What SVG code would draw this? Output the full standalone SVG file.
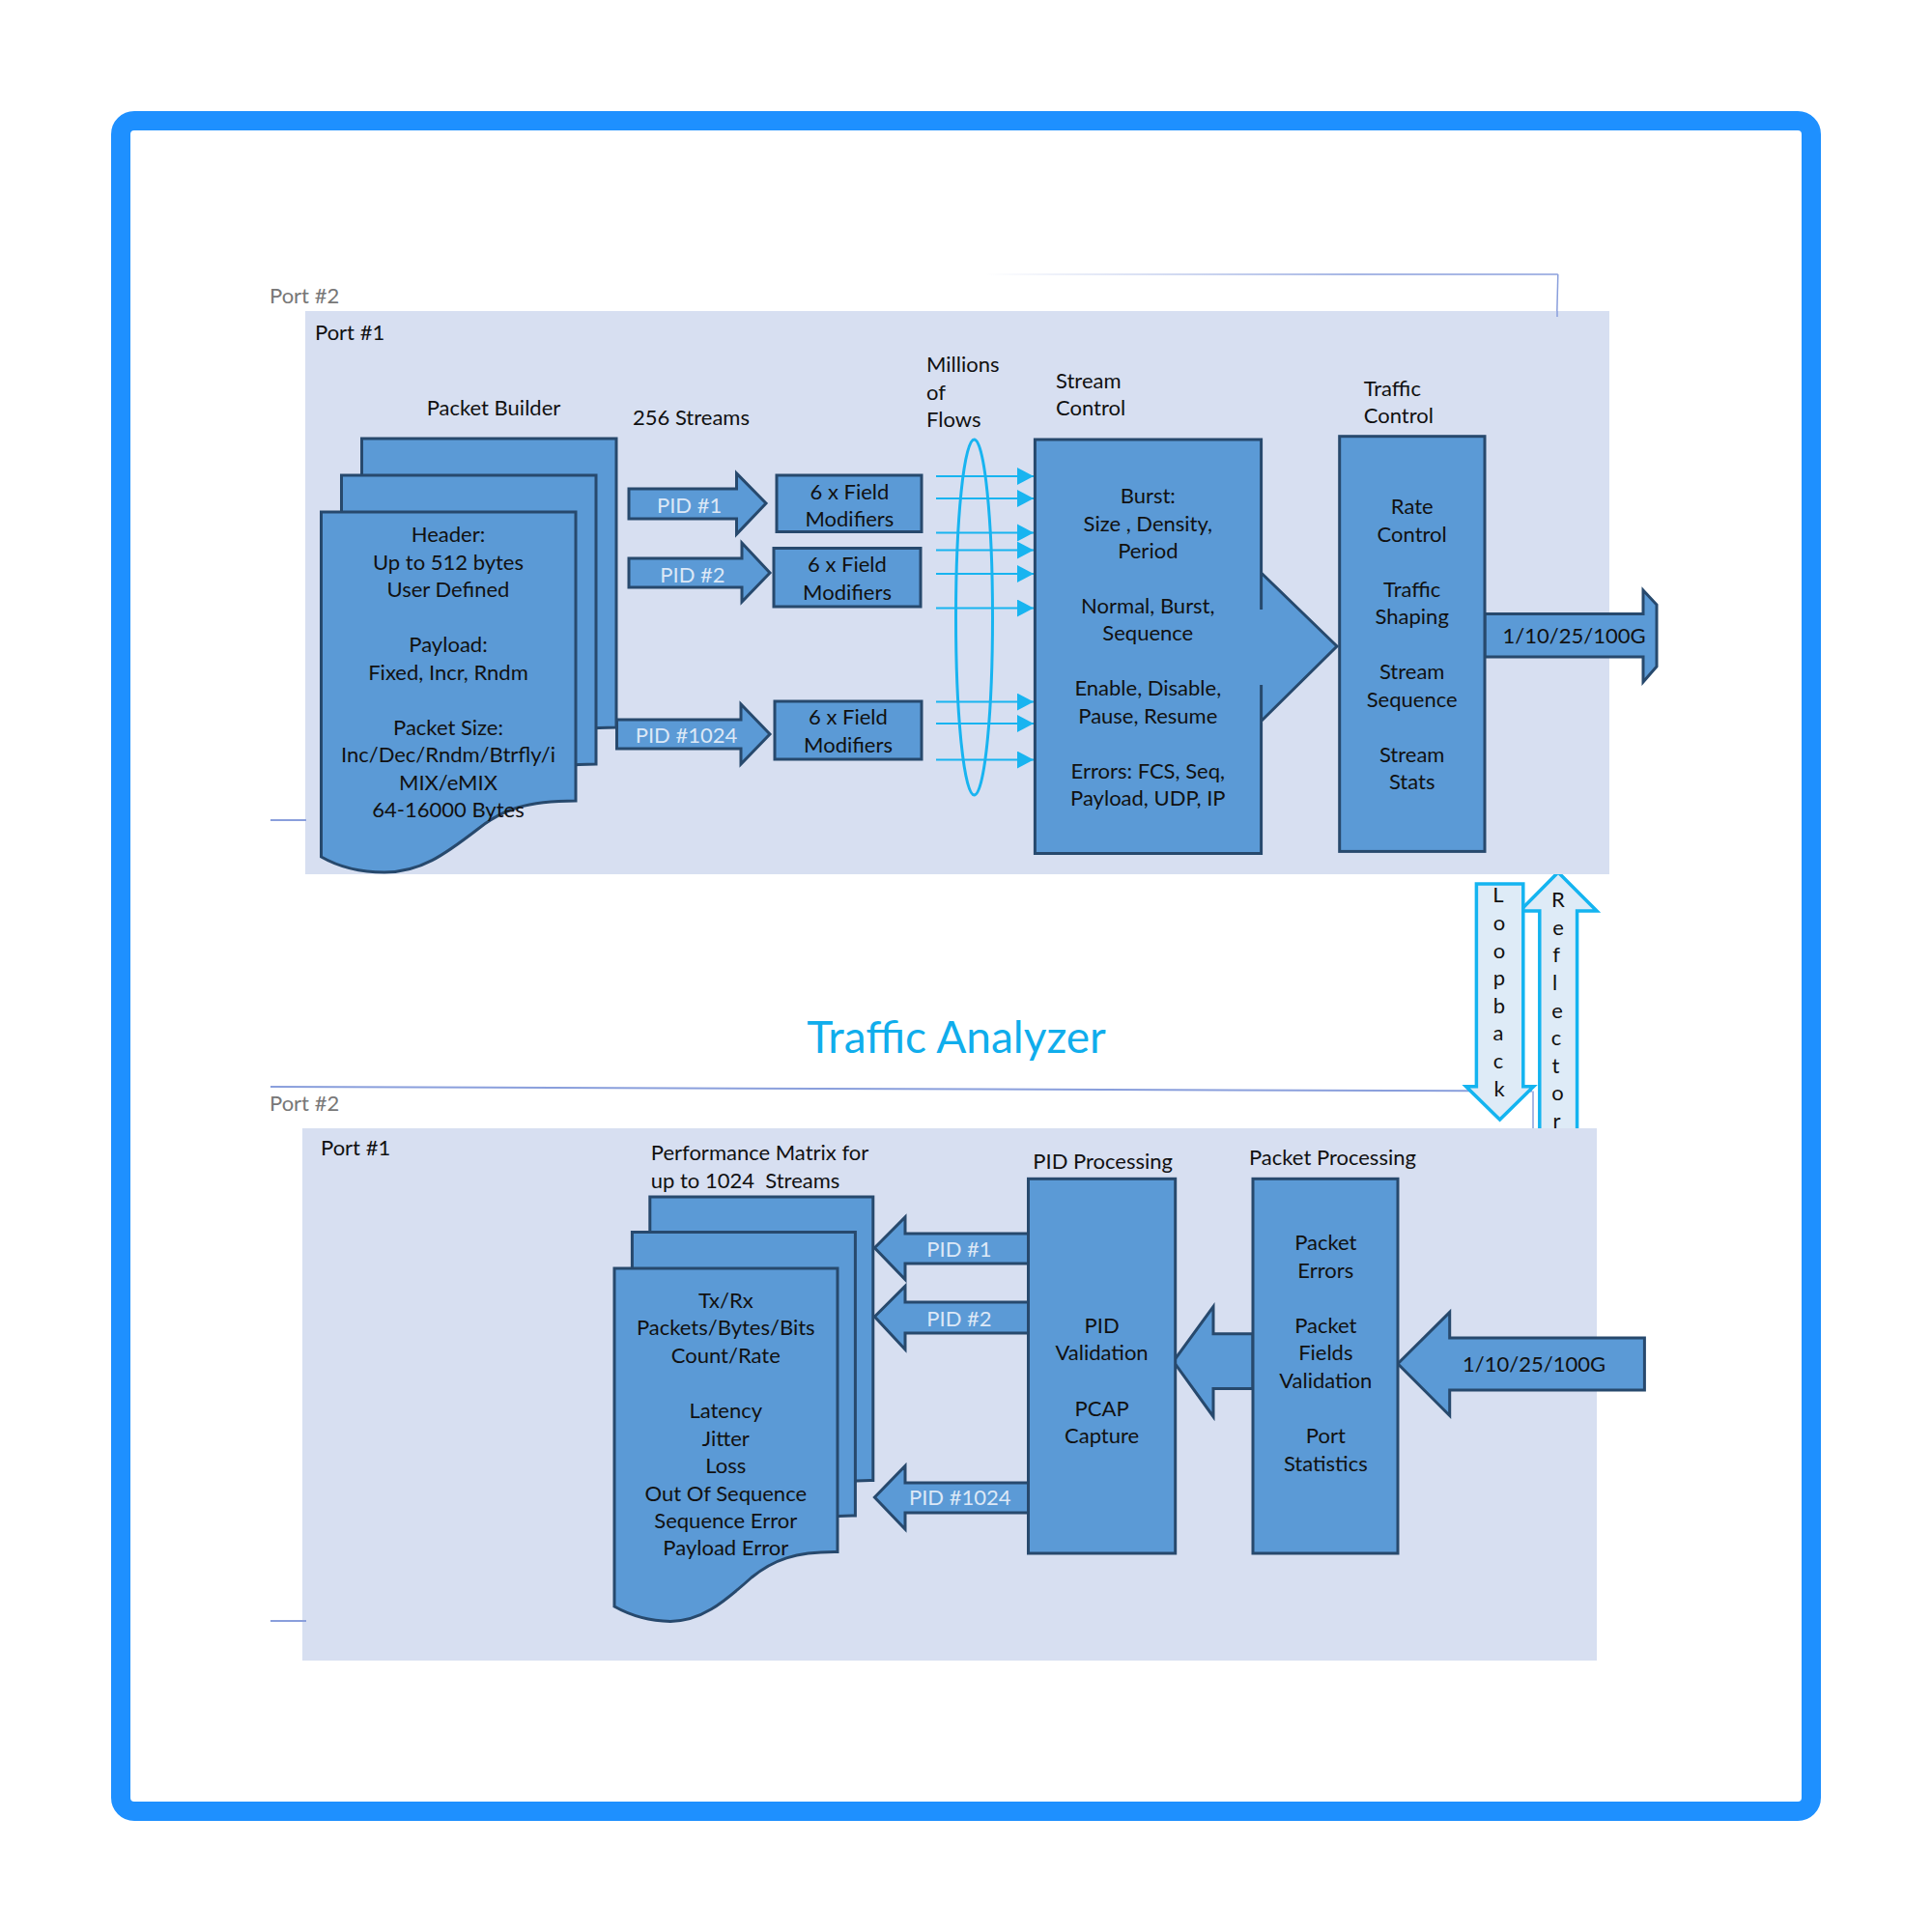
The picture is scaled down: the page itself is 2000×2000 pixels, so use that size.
<svg xmlns="http://www.w3.org/2000/svg" xmlns:xlink="http://www.w3.org/1999/xlink" width="2000" height="2000" viewBox="0 0 2000 2000">
<style>
text{font-family:"Lato","Liberation Sans",sans-serif;font-size:22px;fill:#111}
.c text,text.c{text-anchor:middle}
.panel{fill:#D7DFF1}
.b{fill:#5B9AD6;stroke:#27496D;stroke-width:3}
.nf{fill:none;stroke:#27496D;stroke-width:3}
.w{fill:#DCE8F6;text-anchor:middle}
.g{fill:#777}
.thin{fill:none;stroke:#8A9FDC}
.flow{stroke:#18B4F0;stroke-width:2;fill:none;marker-end:url(#tri)}
.lt{fill:#DEEBF7;stroke:#14B4F0;stroke-width:3.5}
</style>
<defs>
<marker id="tri" markerUnits="userSpaceOnUse" markerWidth="18" markerHeight="20" refX="17" refY="9" orient="auto"><path d="M0 0L17 9L0 18Z" fill="#18B4F0"/></marker>
<clipPath id="cl"><rect x="280" y="200" width="1440" height="1600"/></clipPath>
<linearGradient id="fade" gradientUnits="userSpaceOnUse" x1="1020" y1="0" x2="1400" y2="0"><stop offset="0" stop-color="#8A9FDC" stop-opacity="0"/><stop offset="1" stop-color="#8A9FDC"/></linearGradient>
<path id="doc1" d="M596 829C545 829 520 838 495 858C460 885 435 903 398 903C370 903 350 897 332.500 887V530H596Z"/>
<path id="doc2" d="M867 1606.500C823 1606 800 1615 778 1633C748 1660 725 1678.400 694 1678.400C670 1678 652 1672 636 1663V1313H867Z"/>
</defs>
<rect id="frame" x="125" y="125" width="1750" height="1750" rx="14" fill="#fff" stroke="#1E90FF" stroke-width="20"/>

<g clip-path="url(#cl)">
<text class="g" x="279" y="314">Port #2</text>
<text class="g" x="279" y="1150">Port #2</text>
</g>
<path d="M1020 284H1612.800" stroke="url(#fade)" fill="none" stroke-width="1.500"/>
<path class="thin" stroke-width="1.500" d="M1612.800 284L1611.700 328"/>
<path class="thin" stroke-width="2" d="M280 849H317M280 1678H317"/>
<path class="thin" stroke-width="2" d="M280 1125L1586 1129.500"/>
<path class="thin" stroke-width="1.500" d="M1587 1129.500V1168"/>

<g id="reflector">
<path class="lt" d="M1613 903L1653 943H1632.600V1180H1593.800V943H1573.400Z"/>
<g class="c"><text x="1613" y="939">R</text><text x="1613" y="967.600">e</text><text x="1611" y="996">f</text><text x="1609.500" y="1025">l</text><text x="1612" y="1053.600">e</text><text x="1611" y="1082">c</text><text x="1610.500" y="1110.800">t</text><text x="1612.500" y="1139.400">o</text><text x="1611.500" y="1168">r</text></g>
</g>
<g id="loopback">
<path class="lt" d="M1528.400 915H1576.800V1124.800H1587.500L1552.600 1159L1517.700 1124.800H1528.400Z"/>
<g class="c"><text x="1551" y="934">L</text><text x="1552" y="963">o</text><text x="1552" y="991.500">o</text><text x="1552" y="1020">p</text><text x="1552" y="1048.700">b</text><text x="1551" y="1077.300">a</text><text x="1551" y="1106">c</text><text x="1552" y="1134.500">k</text></g>
</g>

<rect id="panel-top" class="panel" x="316" y="322" width="1350" height="583"/>
<rect id="panel-bottom" class="panel" x="313" y="1168" width="1340" height="551"/>
<path class="thin" stroke-width="1.500" d="M1612 322V328"/>
<path class="thin" stroke-width="2" d="M313 849H317M313 1678H317"/>

<text id="title" class="c" x="990" y="1090" style="font-size:46px;fill:#10ADEC">Traffic Analyzer</text>
<text x="326" y="352">Port #1</text>
<text x="332" y="1196">Port #1</text>

<g id="connectors">
<g id="flows">
<ellipse cx="1008.500" cy="639" rx="19" ry="184" fill="none" stroke="#18B4F0" stroke-width="3"/>
<path class="flow" d="M969 493H1070"/><path class="flow" d="M969 516H1070"/><path class="flow" d="M969 551.400H1070"/><path class="flow" d="M969 569.600H1070"/><path class="flow" d="M969 594H1070"/><path class="flow" d="M969 629.500H1070"/><path class="flow" d="M969 726.600H1070"/><path class="flow" d="M969 749H1070"/><path class="flow" d="M969 786.500H1070"/>
</g>
<g id="arrow-pid1-tx"><path class="b" d="M651 506H762.500V490L793 521L762.500 553V537H651Z"/><text class="w" x="713.600" y="531">PID #1</text></g>
<g id="arrow-pid2-tx"><path class="b" d="M651 578H768V562L797 593L768 623V608H651Z"/><text class="w" x="717" y="602.600">PID #2</text></g>
<g id="arrow-pid1024-tx"><path class="b" d="M638.500 745H767V729L797 760L767 791V775H638.500Z"/><text class="w" x="710.500" y="769">PID #1024</text></g>
<g id="arrow-out" clip-path="url(#outc)"><path class="b" d="M1537 635.500H1701V611L1715 626V690L1701 706V680H1537Z"/><text class="c" x="1629.600" y="666" text-anchor="middle">1/10/25/100G</text></g>
<g id="arrow-pid1-rx"><path class="b" d="M1064.500 1277H937V1260L905.400 1291.800L937 1324.500V1308H1064.500Z"/><text class="w" x="993" y="1301">PID #1</text></g>
<g id="arrow-pid2-rx"><path class="b" d="M1064.500 1348H937V1331.400L905.400 1363L937 1397V1380H1064.500Z"/><text class="w" x="993" y="1372.700">PID #2</text></g>
<g id="arrow-pid1024-rx"><path class="b" d="M1064.500 1535H937V1517.500L905.400 1550L937 1583V1566H1064.500Z"/><text class="w" x="993.700" y="1558">PID #1024</text></g>
<g id="arrow-mid"><path class="b" d="M1297 1380.700H1256V1352.600L1214.700 1409.300L1256 1466.500V1437.400H1297Z"/></g>
<g id="arrow-in"><path class="b" d="M1702.400 1385H1500.700V1358.400L1447 1411.800L1500.700 1465.500V1439H1702.400Z"/><text class="c" x="1588" y="1419.500" text-anchor="middle">1/10/25/100G</text></g>
</g>

<g id="packet-builder">
<text class="c" x="511" y="430.400" text-anchor="middle">Packet Builder</text>
<use xlink:href="#doc1" href="#doc1" class="b" transform="translate(42 -76)"/>
<use xlink:href="#doc1" href="#doc1" class="b" transform="translate(21 -38)"/>
<use xlink:href="#doc1" href="#doc1" class="b"/>
<g class="c"><text x="464" y="561">Header:</text><text x="464" y="589.500">Up to 512 bytes</text><text x="464" y="618">User Defined</text><text x="464" y="675">Payload:</text><text x="464" y="703.500">Fixed, Incr, Rndm</text><text x="464" y="760.500">Packet Size:</text><text x="464" y="789">Inc/Dec/Rndm/Btrfly/i</text><text x="464" y="817.500">MIX/eMIX</text><text x="464" y="846">64-16000 Bytes</text></g>
</g>
<text x="655" y="440">256 Streams</text>
<g id="field-mod-1"><rect class="b" x="804" y="492" width="150" height="58.500"/><g class="c"><text x="879.400" y="517">6 x Field</text><text x="879.400" y="545">Modifiers</text></g></g>
<g id="field-mod-2"><rect class="b" x="801" y="567.500" width="152" height="60.500"/><g class="c"><text x="877" y="592">6 x Field</text><text x="877" y="621">Modifiers</text></g></g>
<g id="field-mod-3"><rect class="b" x="802" y="726" width="152" height="60"/><g class="c"><text x="878" y="750">6 x Field</text><text x="878" y="779">Modifiers</text></g></g>
<g id="millions"><text x="959" y="385">Millions</text><text x="959" y="413.500">of</text><text x="959" y="442">Flows</text></g>

<g id="stream-control">
<text x="1093" y="402">Stream</text><text x="1093" y="430.400">Control</text>
<path d="M1071.400 455H1305.600V593L1384 669L1305.600 746.500V883.600H1071.400Z" fill="#5B9AD6"/>
<path class="nf" d="M1305.600 631V455H1071.400V883.600H1305.600V709M1305.600 593L1384 669L1305.600 746.500"/>
<g class="c"><text x="1188.300" y="521">Burst:</text><text x="1188.300" y="549.700">Size , Density,</text><text x="1188.300" y="578">Period</text><text x="1188.300" y="634.700">Normal, Burst,</text><text x="1188.300" y="663">Sequence</text><text x="1188.300" y="720">Enable, Disable,</text><text x="1188.300" y="748.700">Pause, Resume</text><text x="1188.300" y="805.500">Errors: FCS, Seq,</text><text x="1188.300" y="833.700">Payload, UDP, IP</text></g>
</g>
<g id="traffic-control">
<text x="1411.700" y="409.600">Traffic</text><text x="1411.700" y="437.800">Control</text>
<rect class="b" x="1386.700" y="451.700" width="150.300" height="429.700"/>
<g class="c"><text x="1461.700" y="532">Rate</text><text x="1461.700" y="561">Control</text><text x="1461.700" y="617.800">Traffic</text><text x="1461.700" y="646.400">Shaping</text><text x="1461.700" y="703">Stream</text><text x="1461.700" y="732">Sequence</text><text x="1461.700" y="789">Stream</text><text x="1461.700" y="817">Stats</text></g>
</g>

<g id="performance-matrix">
<text x="673.800" y="1201">Performance Matrix for</text><text x="673.800" y="1230" xml:space="preserve">up to 1024  Streams</text>
<use xlink:href="#doc2" href="#doc2" class="b" transform="translate(36.800 -74)"/>
<use xlink:href="#doc2" href="#doc2" class="b" transform="translate(18.400 -37.500)"/>
<use xlink:href="#doc2" href="#doc2" class="b"/>
<g class="c"><text x="751.300" y="1354">Tx/Rx</text><text x="751.300" y="1382.400">Packets/Bytes/Bits</text><text x="751.300" y="1411">Count/Rate</text><text x="751.300" y="1468">Latency</text><text x="751.300" y="1496.700">Jitter</text><text x="751.300" y="1525">Loss</text><text x="751.300" y="1553.500">Out Of Sequence</text><text x="751.300" y="1582">Sequence Error</text><text x="751.300" y="1610">Payload Error</text></g>
</g>
<g id="pid-processing">
<text x="1069.300" y="1209.600">PID Processing</text>
<rect class="b" x="1064.500" y="1220.300" width="152.200" height="387.700"/>
<g class="c"><text x="1140.600" y="1380">PID</text><text x="1140.600" y="1408">Validation</text><text x="1140.600" y="1465.600">PCAP</text><text x="1140.600" y="1494">Capture</text></g>
</g>
<g id="packet-processing">
<text x="1293" y="1205.700">Packet Processing</text>
<rect class="b" x="1297" y="1220.300" width="150" height="387.700"/>
<g class="c"><text x="1372.300" y="1294.400">Packet</text><text x="1372.300" y="1323">Errors</text><text x="1372.300" y="1380">Packet</text><text x="1372.300" y="1408.400">Fields</text><text x="1372.300" y="1437.400">Validation</text><text x="1372.300" y="1494">Port</text><text x="1372.300" y="1523">Statistics</text></g>
</g>
</svg>
